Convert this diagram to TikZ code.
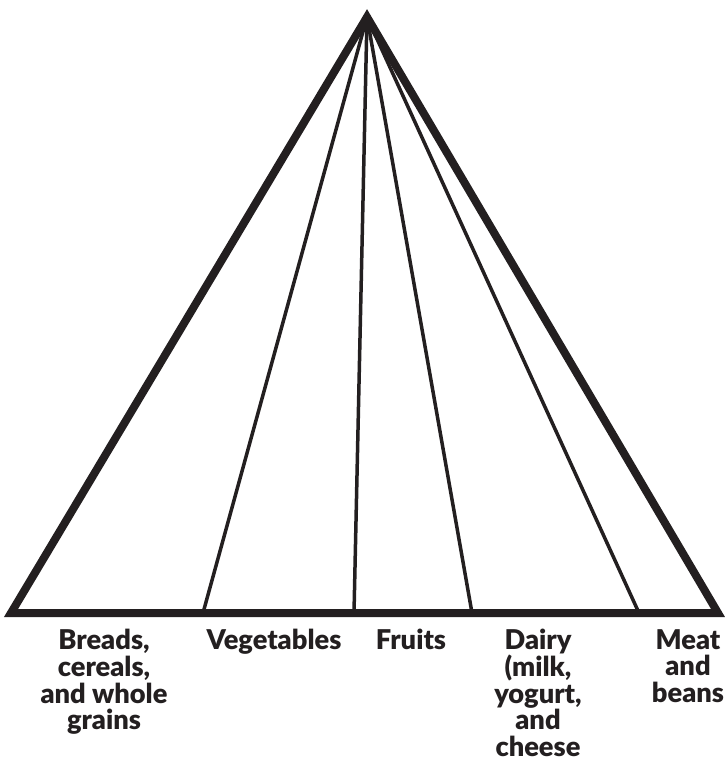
\documentclass[tikz,border=0pt]{standalone}
\usepackage{fontspec}
\setmainfont{Lato}[BoldFont={Lato Black}]
\usetikzlibrary{positioning}

\definecolor{ink}{HTML}{231F20}

\begin{document}
\begin{tikzpicture}[
    x=0.02cm,
    y=-0.02cm,
    outline/.style={
        draw=ink,
        line width=0.16cm,
        line join=miter
    },
    divider/.style={
        draw=ink,
        line width=0.07cm
    },
    group/.style={
        align=center,
        anchor=north,
        inner sep=0pt,
        text=ink,
        font=\bfseries\fontsize{15.5}{15.2}\selectfont
    }
]

\useasboundingbox (0,0) rectangle (724,778);

% Corners
\coordinate (apex) at (367,17);
\coordinate (left) at (11,613);
\coordinate (right) at (718,613);

% Base points
\coordinate (veg) at (203,613);
\coordinate (fruit) at (354,613);
\coordinate (dairy) at (472,613);
\coordinate (meat) at (639,613);

% Dividers
\draw[divider] (apex) -- (veg);
\draw[divider] (apex) -- (fruit);
\draw[divider] (apex) -- (dairy);
\draw[divider] (apex) -- (meat);

% Pyramid
\draw[outline] (apex) -- (left) -- (right) -- cycle;

% Labels
\node[group] (grains) at (104,629) {Breads,\\cereals,\\and whole\\grains};
\node[group] (vegetables) at (274,629) {Vegetables};
\node[group] (fruits) at (411,629) {Fruits};
\node[group] (milk) at (538,629) {Dairy\\(milk,\\yogurt,\\and\\cheese};
\node[group] (beans) at (688,629) {Meat\\and\\beans};

\end{tikzpicture}
\end{document}
